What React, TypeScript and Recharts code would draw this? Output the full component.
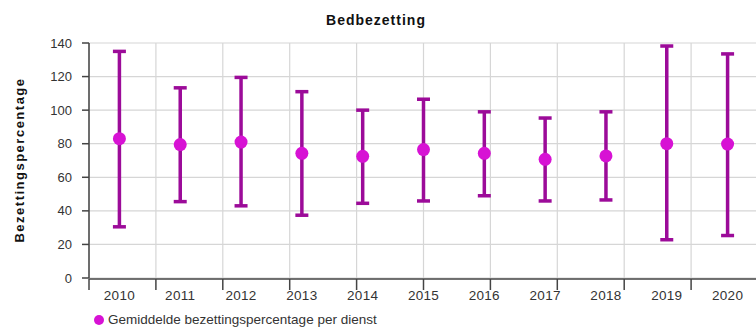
import React from 'react';
import { ComposedChart, Line, ErrorBar, XAxis, YAxis, CartesianGrid } from 'recharts';

const years = ['2010', '2011', '2012', '2013', '2014', '2015', '2016', '2017', '2018', '2019', '2020'];
const meanValues = [83, 79.5, 81, 74.3, 72.5, 76.5, 74.3, 70.7, 72.7, 80, 79.8];
const lowValues = [30.5, 45.5, 43, 37.4, 44.5, 45.9, 49, 45.9, 46.5, 22.8, 25.3];
const highValues = [135, 113.3, 119.5, 111, 100, 106.5, 99, 95.3, 99, 138.2, 133.5];
const yTicks = [0, 20, 40, 60, 80, 100, 120, 140];
const boundaryTicks = [0, 1, 2, 3, 4, 5, 6, 7, 8, 9, 10, 11];

const title = 'Bedbezetting';
const yLabel = 'Bezettingspercentage';
const legendLabel = 'Gemiddelde bezettingspercentage per dienst';

const data = years.map((y, i) => ({
  year: y,
  mean: meanValues[i],
  err: [meanValues[i] - lowValues[i], highValues[i] - meanValues[i]],
}));

const DOT = '#d712d4';
const BAR = '#9c0b99';
const FONT = '"Liberation Sans", Arial, sans-serif';

const Dot = (props: any) => {
  const { cx, cy } = props;
  if (cx == null || cy == null) return null;
  return <circle cx={cx} cy={cy} r={6.5} fill={DOT} stroke="none" />;
};

export default function App() {
  return (
    <div style={{ position: 'absolute', left: 0, top: 0, width: 756, height: 328, overflow: 'hidden', background: '#fff', fontFamily: FONT }}>
      <ComposedChart width={760} height={328} data={data} margin={{ top: 43, right: 2, bottom: 0, left: 24 }}>
        <CartesianGrid xAxisId="b" stroke="#d6d6d6" strokeWidth={1.2} />
        <XAxis
          dataKey="year"
          xAxisId="a"
          scale="band"
          height={1}
          axisLine={false}
          tickLine={false}
          tickSize={0}
          tickMargin={12}
          interval={0}
          tick={{ fill: '#333', fontSize: 13.5, fontFamily: FONT, letterSpacing: 0.3 }}
        />
        <XAxis
          xAxisId="b"
          type="number"
          domain={[0, 11]}
          ticks={boundaryTicks}
          height={49}
          tickSize={11}
          tickFormatter={() => ''}
          axisLine={{ stroke: '#444', strokeWidth: 1.5 }}
          tickLine={{ stroke: '#444', strokeWidth: 1.5 }}
          allowDataOverflow
        />
        <YAxis
          domain={[0, 140]}
          ticks={yTicks}
          width={65}
          tickSize={7}
          tickMargin={10}
          axisLine={{ stroke: '#444', strokeWidth: 1.5 }}
          tickLine={{ stroke: '#444', strokeWidth: 1.5 }}
          tick={{ fill: '#333', fontSize: 13, fontFamily: FONT }}
        />
        <Line
          xAxisId="a"
          dataKey="mean"
          stroke="none"
          dot={<Dot />}
          activeDot={false}
          isAnimationActive={false}
        >
          <ErrorBar dataKey="err" direction="y" stroke={BAR} strokeWidth={3.5} width={6.5} isAnimationActive={false} />
        </Line>
      </ComposedChart>
      <div style={{ position: 'absolute', left: 226, width: 300, top: 12, textAlign: 'center', fontWeight: 'bold', fontSize: 14, letterSpacing: 1, color: '#111' }}>{title}</div>
      <div
        style={{
          position: 'absolute',
          left: 19,
          top: 160,
          transform: 'translate(-50%, -50%) rotate(-90deg)',
          whiteSpace: 'nowrap',
          fontWeight: 'bold',
          fontSize: 13,
          letterSpacing: 1.5,
          color: '#111',
        }}
      >
        {yLabel}
      </div>
      <div style={{ position: 'absolute', left: 94, top: 312, display: 'flex', alignItems: 'center', fontSize: 13.5, color: '#333', whiteSpace: 'nowrap' }}>
        <span style={{ display: 'inline-block', width: 10, height: 10, borderRadius: '50%', background: DOT, marginRight: 4 }} />
        {legendLabel}
      </div>
    </div>
  );
}
